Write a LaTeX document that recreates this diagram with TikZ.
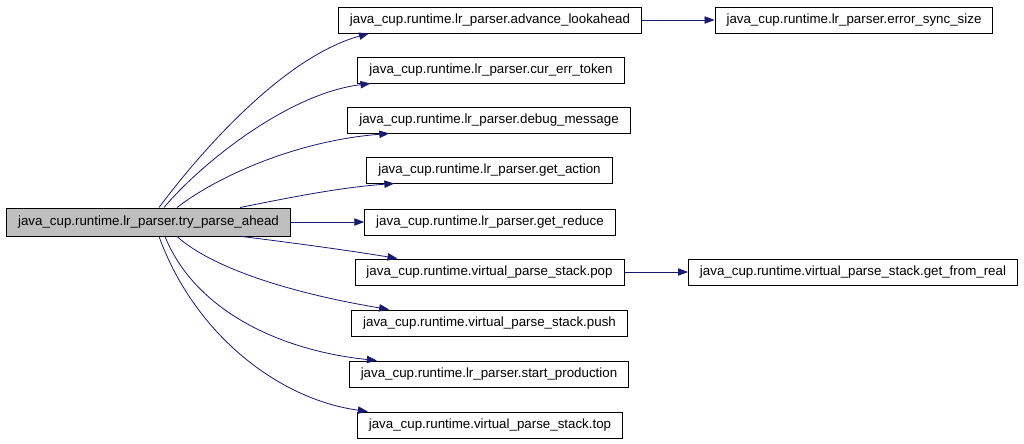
\documentclass[tikz,border=0pt]{standalone}
\usepackage{fontspec}
\setmainfont{Liberation Sans}
\usepackage{xcolor}
\usepackage{tikz}
\usetikzlibrary{arrows.meta, calc}

\definecolor{edgeblue}{RGB}{25,25,112}
\definecolor{rootgray}{RGB}{191,191,191}

\begin{document}
\begin{tikzpicture}[x=0.75pt, y=-0.75pt, font=\fontsize{10}{12}\selectfont,
  fn/.style   = {draw=black, line width=0.75pt, inner xsep=8.6pt, inner ysep=0pt,
                 minimum height=19.5pt, fill=white, anchor=center},
  rootfn/.style = {fn, fill=rootgray, minimum height=21pt},
  call/.style = {draw=edgeblue, line width=0.6pt,
                 -{Triangle[length=7.5pt, width=5.5pt]}}
]
  \useasboundingbox (0,0) rectangle (1024,443);

  %% caller
  \node[rootfn] (try) at (148.5,222) {java\_cup.runtime.lr\_parser.try\_parse\_ahead};

  %% callees
  \node[fn] (adv)   at (490,20)  {java\_cup.runtime.lr\_parser.advance\_lookahead};
  \node[fn] (sync)  at (854,20)  {java\_cup.runtime.lr\_parser.error\_sync\_size};
  \node[fn] (err)   at (491,70)  {java\_cup.runtime.lr\_parser.cur\_err\_token};
  \node[fn] (dbg)   at (489,120) {java\_cup.runtime.lr\_parser.debug\_message};
  \node[fn] (act)   at (489.5,170) {java\_cup.runtime.lr\_parser.get\_action};
  \node[fn] (red)   at (490,222) {java\_cup.runtime.lr\_parser.get\_reduce};
  \node[fn] (pop)   at (489.5,272) {java\_cup.runtime.virtual\_parse\_stack.pop};
  \node[fn] (real)  at (853,272) {java\_cup.runtime.virtual\_parse\_stack.get\_from\_real};
  \node[fn] (push)  at (489.5,323) {java\_cup.runtime.virtual\_parse\_stack.push};
  \node[fn] (prod)  at (489,374) {java\_cup.runtime.lr\_parser.start\_production};
  \node[fn] (top)   at (490,425) {java\_cup.runtime.virtual\_parse\_stack.top};

  %% edges leaving the top of the caller
  \draw[call] ($(try.north)+(10.5,0)$) .. controls +(51,-68) and +(-80,22) .. ($(adv.south west)+(31,0)$);
  \draw[call] ($(try.north)+(15.5,0)$) .. controls +(36,-43) and +(-83,10) .. ($(err.south west)+(13,0)$);
  \draw[call] ($(try.north)+(28.5,0)$) .. controls +(43,-33) and +(-90,7) .. ($(dbg.south west)+(42,0)$);
  \draw[call] ($(try.north)+(91.5,0)$) .. controls +(50,-10) and +(-55,4) .. ($(act.south west)+(28,0)$);

  %% straight edge
  \draw[call] (try.east) -- (red.west);

  %% edges leaving the bottom of the caller
  \draw[call] ($(try.south)+(93.5,0)$) .. controls +(48,6) and +(-48,-8) .. ($(pop.north west)+(43,0)$);
  \draw[call] ($(try.south)+(28.5,0)$) .. controls +(38,34) and +(-90,-15) .. ($(push.north west)+(38,0)$);
  \draw[call] ($(try.south)+(16.5,0)$) .. controls +(30,74) and +(-97,-10) .. ($(prod.north west)+(28,0)$);
  \draw[call] ($(try.south)+(10.5,0)$) .. controls +(36,99) and +(-88,-12) .. ($(top.north west)+(11,0)$);

  %% second level
  \draw[call] (adv.east) -- (sync.west);
  \draw[call] (pop.east) -- (real.west);
\end{tikzpicture}
\end{document}
